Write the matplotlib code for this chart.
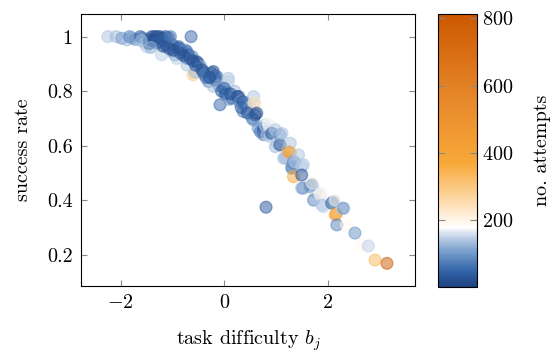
import numpy as np
import matplotlib
matplotlib.use("Agg")
import matplotlib.pyplot as plt
from matplotlib.colors import LinearSegmentedColormap, Normalize

plt.rcParams.update({
    "font.family": "serif",
    "font.serif": ["cmr10"],
    "mathtext.fontset": "cm",
    "axes.formatter.use_mathtext": True,
    "font.size": 14.5,
})

# task difficulty b_j
difficulty = [
    -2.25, -2.09, -1.98, -1.88, -1.83, -1.79, -1.72, -1.62, -1.58, -1.53,
    -1.50, -1.45, -1.40, -1.35, -1.30, -1.30, -1.25, -1.21, -1.21, -1.17,
    -1.14, -1.11, -1.11, -1.08, -1.04, -1.01, -1.00, -0.95, -0.92, -0.88,
    -0.88, -0.82, -0.75, -0.72, -0.72, -0.72, -0.69, -0.66, -0.64, -0.62,
    -0.60, -0.56, -0.53, -0.50, -0.45, -0.43, -0.38, -0.30, -0.24, -0.21,
    -0.21, -0.17, -0.17, -0.14, -0.10, -0.08, -0.05, 0.02, 0.05, 0.05,
    0.08, 0.08, 0.10, 0.15, 0.20, 0.25, 0.28, 0.30, 0.37, 0.37,
    0.41, 0.41, 0.44, 0.50, 0.54, 0.57, 0.58, 0.59, 0.57, 0.60,
    0.63, 0.66, 0.70, 0.76, 0.76, 0.76, 0.79, 0.83, 0.81, 0.86,
    0.86, 0.89, 0.92, 0.99, 0.99, 0.99, 1.02, 1.08, 1.08, 1.12,
    1.15, 1.18, 1.21, 1.24, 1.28, 1.28, 1.31, 1.31, 1.34, 1.34,
    1.34, 1.37, 1.44, 1.50, 1.53, 1.50, 1.50, 1.53, 1.66, 1.70,
    1.70, 1.76, 1.73, 1.86, 1.86, 1.89, 1.92, 2.08, 2.11, 2.15,
    2.15, 2.17, 2.18, 2.28, 2.31, 2.37, 2.53, 2.66, 2.79, 2.92,
    3.15,
    -1.45, -1.38, -1.27, -1.18, -1.05, -0.98, -0.85, -0.78, -0.60, -0.55,
    -0.40, -0.35, -0.28, -1.60, -1.42, 0.00, 0.12, 0.33, 0.45,
]
# success rate
success = [
    1.000, 1.000, 0.994, 0.988, 1.000, 0.996, 0.990, 1.000, 0.995, 0.976,
    0.963, 0.990, 1.000, 1.000, 1.000, 0.976, 1.000, 0.994, 0.933, 0.985,
    1.000, 0.970, 0.963, 0.996, 1.000, 0.945, 0.970, 0.933, 0.920, 0.957,
    0.963, 0.950, 0.951, 0.945, 0.920, 0.896, 0.933, 0.920, 1.000, 0.927,
    0.860, 0.870, 0.908, 0.902, 0.890, 0.878, 0.860, 0.835, 0.866, 0.872,
    0.817, 0.853, 0.841, 0.853, 0.820, 0.750, 0.800, 0.790, 0.792, 0.798,
    0.847, 0.835, 0.770, 0.774, 0.800, 0.780, 0.780, 0.760, 0.761, 0.725,
    0.756, 0.750, 0.731, 0.740, 0.700, 0.780, 0.760, 0.755, 0.694, 0.713,
    0.719, 0.664, 0.651, 0.664, 0.651, 0.640, 0.676, 0.640, 0.374, 0.682,
    0.676, 0.633, 0.645, 0.658, 0.600, 0.596, 0.609, 0.603, 0.640, 0.645,
    0.554, 0.554, 0.560, 0.578, 0.609, 0.574, 0.517, 0.523, 0.535, 0.541,
    0.486, 0.541, 0.566, 0.523, 0.530, 0.492, 0.444, 0.444, 0.450, 0.456,
    0.462, 0.431, 0.400, 0.419, 0.425, 0.382, 0.376, 0.389, 0.394, 0.400,
    0.346, 0.350, 0.309, 0.370, 0.370, 0.309, 0.279, 0.236, 0.232, 0.180,
    0.168,
    0.975, 0.985, 0.980, 0.965, 0.955, 0.950, 0.940, 0.930, 0.910, 0.895,
    0.870, 0.850, 0.850, 0.985, 0.960, 0.810, 0.790, 0.740, 0.720,
]
# number of attempts
attempts = [
    140, 130, 100, 130, 80, 110, 90, 40, 70, 140,
    150, 60, 30, 20, 15, 90, 25, 30, 150, 60,
    20, 80, 30, 40, 70, 140, 60, 90, 150, 25,
    35, 50, 90, 60, 30, 140, 40, 30, 50, 80,
    300, 130, 25, 30, 120, 20, 90, 80, 30, 25,
    140, 20, 40, 70, 110, 50, 30, 40, 30, 80,
    140, 150, 100, 50, 130, 25, 20, 90, 30, 80,
    70, 60, 90, 150, 80, 140, 160, 260, 90, 30,
    20, 90, 70, 60, 30, 80, 140, 140, 30, 190,
    170, 140, 30, 140, 180, 130, 140, 25, 100, 140,
    140, 130, 140, 420, 140, 400, 80, 90, 80, 100,
    380, 140, 140, 150, 140, 25, 120, 100, 90, 60,
    200, 150, 80, 160, 200, 140, 150, 40, 90, 200,
    450, 380, 80, 150, 90, 190, 90, 190, 150, 330,
    813,
    30, 20, 40, 25, 30, 20, 30, 25, 20, 35,
    30, 60, 25, 130, 120, 40, 30, 40, 30,
]

cbar_ticks = [200, 400, 600, 800]
x_ticks = [-2, 0, 2]
y_ticks = [0.2, 0.4, 0.6, 0.8, 1.0]

cmap = LinearSegmentedColormap.from_list("bo", [
    (0.00, "#1f4280"),
    (0.05, "#2e60a5"),
    (0.12, "#6f98c9"),
    (0.18, "#bccfe6"),
    (0.215, "#ffffff"),
    (0.30, "#fde0b8"),
    (0.45, "#f8a93a"),
    (0.70, "#e6862a"),
    (1.00, "#cc5800"),
])
norm = Normalize(vmin=1, vmax=813)

fig = plt.figure(figsize=(5.6, 3.52), dpi=100)
ax = fig.add_axes([0.1446, 0.1884, 0.5972, 0.771])
cax = fig.add_axes([0.782, 0.1855, 0.0696, 0.7745])

sc = ax.scatter(difficulty, success, c=attempts, cmap=cmap, norm=norm,
                s=72, alpha=0.5, edgecolors="face", linewidths=1.0)

ax.set_xlim(-2.77, 3.70)
ax.set_ylim(0.086, 1.082)
ax.set_xticks(x_ticks)
ax.set_yticks(y_ticks)
ax.set_yticklabels(["0.2", "0.4", "0.6", "0.8", "1"])
ax.tick_params(direction="in", length=4.5, width=0.8, color="#888888",
               top=True, right=True, pad=6)
for sp in ax.spines.values():
    sp.set_linewidth(0.8)
ax.set_xlabel("task difficulty $b_j$", labelpad=12)
ax.set_ylabel("success rate", labelpad=11)

cb = fig.colorbar(sc, cax=cax)
cb.solids.set_alpha(1)
cb.set_ticks(cbar_ticks)
cax.tick_params(direction="in", length=5, width=0.8, color="#888888",
                left=True, right=True, pad=4)
cb.outline.set_linewidth(0.8)
cb.set_label("no. attempts", labelpad=14)

fig.savefig("out.png", dpi=100)
